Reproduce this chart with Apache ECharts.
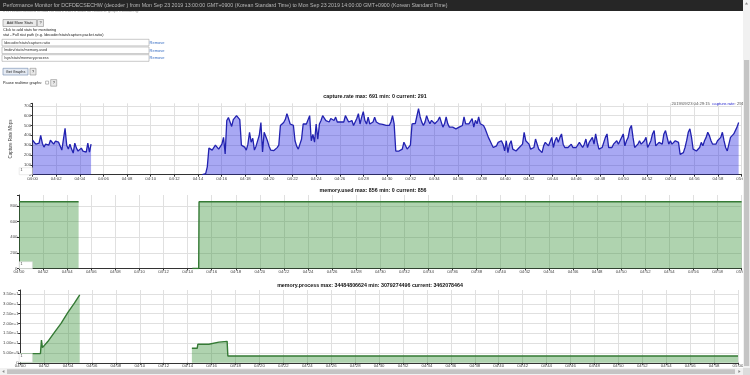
<!DOCTYPE html>
<html><head><meta charset="utf-8">
<script src="https://cdn.jsdelivr.net/npm/echarts@6/dist/echarts.min.js"></script>
<style>
html,body{margin:0;padding:0;width:750px;height:375px;overflow:hidden;background:#fff;}
#c{position:absolute;left:0;top:0;width:750px;height:375px;}
</style></head>
<body><div id="c"></div>
<script>
// ---------- data ----------
const tickLabels = ['04:00','04:02','04:04','04:06','04:08','04:10','04:12','04:14','04:16','04:18','04:20','04:22','04:24','04:26','04:28','04:30','04:32','04:34','04:36','04:38','04:40','04:42','04:44','04:46','04:48','04:50','04:52','04:54','04:56','04:58','05:00'];

// capture.rate (minutes after 04:00, sampled every rateStep minutes)
const rateStep = 0.1375;
const rateAStart = 0;
const rateA = [350,370,310,300,320,400,320,280,310,330,300,350,330,310,340,320,330,320,250,240,470,300,260,310,260,220,320,270,240,250,270,240,260,230,320,230,310];
const rateBStart = 14.372;
const rateB = [0,0,10,80,270,290,250,270,300,290,260,240,310,380,210,550,580,590,490,560,550,600,580,560,300,290,280,250,310,430,330,370,250,290,
300,400,530,230,430,410,345,290,250,240,
245,240,275,300,500,515,530,560,620,570,
515,515,500,345,290,260,310,360,515,515,
515,520,600,345,410,330,515,360,515,550,
600,620,550,570,535,570,585,550,585,535,
550,535,515,535,600,620,535,515,550,500,
515,570,620,515,585,640,550,515,585,515,
500,535,585,535,515,515,515,510,515,500,
500,500,535,600,515,240,225,240,225,260,
330,310,260,240,300,515,535,520,500,672,
586,534,500,534,600,552,517,552,534,517,
500,552,586,534,483,517,586,517,483,483,
483,466,466,466,483,483,500,586,517,517,
517,517,569,483,552,517,586,517,534,500,
466,448,379,345,310,276,259,293,328,345,
345,310,241,345,224,310,345,259,276,241,
259,276,293,310,431,345,328,310,259,241,
276,362,310,259,241,224,293,328,345,293,
310,379,276,345,379,328,379,414,310,276,
293,276,293,310,276,259,276,293,328,345,
276,310,362,276,328,345,379,310,414,328,
259,259,276,293,379,414,276,259,276,310,
293,345,310,345,328,414,293,345,379,466,
500,379,276,276,310,345,310,293,345,379,
276,310,345,414,448,293,310,328,345,310,
414,448,379,310,345,310,293,345,362,328,
207,207,224,276,345,431,466,379,259,241,
241,259,276,328,293,345,379,431,397,345,
310,328,310,345,328,379,431,345,276,241,
310,379,362,414,397,483,530];

// memory.used
const usedATimes = [0, 4.95];
const usedA = [856, 856];
const usedBTimes = [14.39, 14.92, 14.95, 60];
const usedB = [0, 0, 856, 856];

// memory.process
const procATimes = [0, 1.697, 1.78, 1.864, 2.309, 2.865, 3.421, 3.978, 4.534, 4.979];
const procA = [4.66e9, 4.66e9, 1.16e10, 7.7e9, 1.08e10, 1.55e10, 2.0e10, 2.55e10, 3.03e10, 3.4484806624e10];
const procBTimes = [14.354, 14.80, 14.85, 15.77, 15.83, 16.61, 16.66, 17.30, 17.36, 60];
const procB = [7.37e9, 7.37e9, 9.4e9, 9.4e9, 1.03e10, 1.05e10, 1.09e10, 1.09e10, 3.47e9, 3.462078464e9];

// texts
const headerText = 'Performance Monitor for DCFDECSECHW (decoder ) from Mon Sep 23 2019 13:00:00 GMT+0900 (Korean Standard Time) to Mon Sep 23 2019 14:00:00 GMT+0900 (Korean Standard Time)';
const statPaths = ['/decoder/stats/capture.ratio', '/mdev/stats/memory.used', '/sys/stats/memory.process'];
const titles = ['capture.rate max: 691 min: 0 current: 291', 'memory.used max: 856 min: 0 current: 856', 'memory.process max: 34484806624 min: 3079274496 current: 3462078464'];

// ---------- helpers ----------
const F = 'Liberation Sans, Arial, sans-serif';
const stepped = (start, step, vals) => vals.map((v, i) => [start + i * step, v]);
const pairs = (ts, vs) => ts.map((t, i) => [t, vs[i]]);
function txt(x, y, text, size, fill, extra) {
  return Object.assign({type:'text', x, y, z:60, silent:true,
    style: Object.assign({text, fontSize:size, fontFamily:F, fill, verticalAlign:'middle', textVerticalAlign:'middle', align:'left', textAlign:'left'}, (extra && extra.style) || {})},
    extra && extra.z !== undefined ? {z: extra.z} : {});
}
function rect(x, y, w, h, fill, stroke, z, lw) {
  return {type:'rect', z: z || 50, silent:true, shape:{x, y, width:w, height:h}, style:{fill, stroke: stroke || null, lineWidth: lw || 0.6}};
}
function btn(x, y, w, h, label, fill, stroke) {
  return [rect(x, y, w, h, fill || '#e9e9e9', stroke || '#8e8e8e', 50),
          txt(x + w / 2, y + h / 2, label, 3.8, '#222', {style:{align:'center', textAlign:'center'}})];
}

const axisCol = '#333';
const gridCol = '#e0e0e0';
function xAx(gi, margin) {
  return {type:'value', gridIndex:gi, min:0, max:60, interval:2,
    axisLine:{show:true, onZero:false, lineStyle:{color:axisCol, width:1}},
    axisTick:{show:true, length:2, lineStyle:{color:axisCol}},
    axisLabel:{fontSize:4.3, fontFamily:F, color:'#444', margin: margin, formatter: v => tickLabels[Math.round(v / 2)] || ''},
    splitLine:{show:true, lineStyle:{color:gridCol, width:1}}};
}
function yAx(gi, max, interval, fmt, extra) {
  return Object.assign({type:'value', gridIndex:gi, min:0, max, interval,
    axisLine:{show:true, lineStyle:{color:axisCol, width:1}},
    axisTick:{show:true, length:2, lineStyle:{color:axisCol}},
    axisLabel:{fontSize:4.3, fontFamily:F, color:'#444', margin:1.5, formatter: fmt},
    splitLine:{show:true, showMaxLine:false, lineStyle:{color:gridCol, width:1}}}, extra || {});
}

const blueLine = {color:'#2222b0', width:1.3};
const blueArea = {color:'#1a1ae0', opacity:0.38};
const greenLine = {color:'#357a35', width:1.4};
const greenArea = {color:'#2e8b2e', opacity:0.38};
function ser(ax, data, line, area) {
  return {type:'line', xAxisIndex:ax, yAxisIndex:ax, data, showSymbol:false, symbol:'none', silent:true,
    lineStyle:line, itemStyle:{color:line.color}, areaStyle:area, animation:false};
}

// ---------- graphics (page chrome) ----------
const g = [];
g.push(txt(3, 11.2, 'It is recommended to add no more than 8 stats for realtime graph monitoring.', 4, '#999', {z:40}));
g.push(rect(0, 0, 743, 11, '#262626', null, 45));
g.push(txt(3, 5.6, headerText, 5.28, '#b8b8b8'));
g.push(...btn(3, 19.5, 33.5, 7, 'Add More Stats'));
g.push(...btn(37.5, 19.5, 6, 7, '?'));
g.push(txt(3, 29.6, 'Click to add stats for monitoring', 3.8, '#222'));
g.push(txt(3, 35.3, 'stat - Full stat path (e.g. /decoder/stats/capture.packet.ratio)', 3.8, '#222'));
const inY = [39.3, 47, 54.7];
statPaths.forEach((p, i) => {
  g.push(rect(2, inY[i], 147, 6.6, '#fff', '#a5a5a5', 50));
  g.push(txt(4, inY[i] + 3.4, p, 3.8, '#333'));
  g.push(txt(149.6, inY[i] + 3.4, 'Remove', 4, '#3a6fc4'));
});
g.push(...btn(3, 68.3, 25, 6.7, 'Get Graphs', '#e6ebf3', '#6f86ad'));
g.push(...btn(30, 68.3, 6, 6.7, '?'));
g.push(txt(3, 82.6, 'Pause realtime graphs:', 3.8, '#222'));
g.push(rect(45.6, 81.1, 3, 3, '#fff', '#777', 50, 0.5));
g.push(...btn(50.7, 79.6, 6, 6.6, '?'));

// chart titles
g.push(txt(375, 96.6, titles[0], 5.3, '#111', {style:{align:'center', textAlign:'center', fontWeight:'bold'}}));
g.push(txt(373, 191, titles[1], 5.3, '#111', {style:{align:'center', textAlign:'center', fontWeight:'bold'}}));
g.push(txt(370, 285.2, titles[2], 5.3, '#111', {style:{align:'center', textAlign:'center', fontWeight:'bold'}}));
// legend of chart 1
g.push({type:'text', x:671.5, y:104.2, z:60, silent:true, style:{
  text:'{d|2019/09/23 04:29:15}  {s|capture.rate}{d|: 291}', fontSize:4.2, fontFamily:F,
  verticalAlign:'middle', textVerticalAlign:'middle',
  rich:{d:{fontSize:4.2, fill:'#555', color:'#555', fontFamily:F}, s:{fontSize:4.2, fill:'#2a2ad0', color:'#2a2ad0', fontFamily:F}}}});
// roller boxes
[[167.7, 7], [261.7, 7], [353.6, 8.6]].forEach(([y, h]) => {
  g.push(rect(19.2, y, 13.2, h, '#fff', '#d8d8d8', 55, 0.5));
  g.push(txt(20.6, y + 2.2, '1', 3.5, '#333'));
});
// scrollbars
g.push(rect(743, 0, 7, 368, '#f1f1f1', null, 90));
g.push(rect(744, 60, 5.2, 306, '#c4c4c4', null, 91));
g.push({type:'polygon', z:92, silent:true, shape:{points:[[746.5, 2.2], [744.9, 4.6], [748.1, 4.6]]}, style:{fill:'#8a8a8a'}});
g.push(rect(0, 368, 743, 7, '#f1f1f1', null, 90));
g.push(rect(7, 369.2, 728, 4.8, '#c4c4c4', null, 91));
g.push({type:'polygon', z:92, silent:true, shape:{points:[[2.2, 371.5], [4.4, 369.9], [4.4, 373.1]]}, style:{fill:'#8a8a8a'}});
g.push({type:'polygon', z:92, silent:true, shape:{points:[[740.6, 371.5], [738.4, 369.9], [738.4, 373.1]]}, style:{fill:'#8a8a8a'}});
g.push(rect(743, 368, 7, 7, '#dcdcdc', null, 90));

// ---------- option ----------
const option = {
  animation:false,
  textStyle:{fontFamily:F},
  grid:[
    {left:19, right:4, top:103.3, bottom:200.3},
    {left:19, right:4, top:195, bottom:106.5},
    {left:19, right:12, top:290, bottom:12.2}
  ],
  xAxis:[xAx(0, 1.8), xAx(1, 1.2), xAx(2, 0.8)],
  yAxis:[
    yAx(0, 725, 100, v => (v % 100 === 0 ? String(v) : ''),
      {name:'Capture Rate Mbps', nameLocation:'middle', nameGap:13.5, nameRotate:90, nameTextStyle:{fontSize:4.5, color:'#444', fontFamily:F}}),
    yAx(1, 941.6, 200, v => (v % 200 === 0 ? String(v) : '')),
    yAx(2, 3.7e10, 5e9, v => (v === 0 ? '0' : (v % 5e9 === 0 ? v.toExponential(2).slice(0, 7) : '')))
  ],
  series:[
    ser(0, stepped(rateAStart, rateStep, rateA), blueLine, blueArea),
    ser(0, stepped(rateBStart, rateStep, rateB), blueLine, blueArea),
    ser(1, pairs(usedATimes, usedA), greenLine, greenArea),
    ser(1, pairs(usedBTimes, usedB), greenLine, greenArea),
    ser(2, pairs(procATimes, procA), greenLine, greenArea),
    ser(2, pairs(procBTimes, procB), greenLine, greenArea)
  ],
  graphic:{elements:g}
};
const chart = echarts.init(document.getElementById('c'), null, {renderer:'canvas', width:750, height:375});
chart.setOption(option);
</script>
</body></html>
